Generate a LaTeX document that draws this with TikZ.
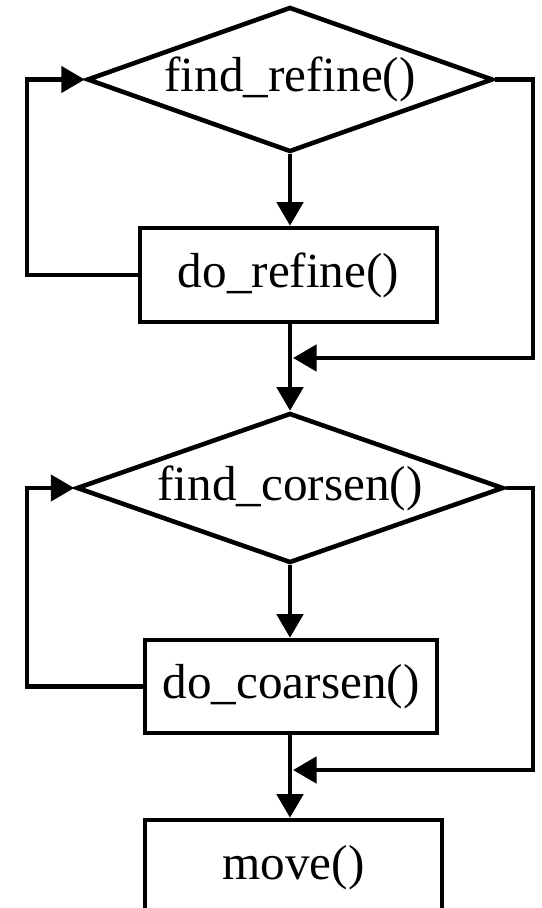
\documentclass[tikz,border=0pt]{standalone}
\usepackage{fontspec}
\setmainfont{Liberation Serif}
\usepackage{tikz}
\usetikzlibrary{arrows.meta,shapes.geometric}

\begin{document}
\begin{tikzpicture}[x=0.02cm,y=-0.02cm,
    line width=2.6pt,
    flow/.style={-{Triangle[length=0.47cm,width=0.52cm]}},
    txt/.style={font=\fontsize{28}{34}\selectfont},
    cond/.style={draw,shape=diamond,txt,inner sep=0pt},
    proc/.style={draw,rectangle,txt,inner sep=0pt}]
    \useasboundingbox (0,0) rectangle (541,908);
    % first loop
    \node[cond,aspect=2.8,minimum width=8.12cm,minimum height=2.9cm] (findref) at (290,79.5) {find\_refine()};
    \node[proc,minimum width=5.94cm,minimum height=1.88cm] (doref) at (288.5,275) {do\_refine()};
    % second loop
    \node[cond,aspect=2.85,minimum width=8.54cm,minimum height=3.0cm] (findcor) at (290,488) {find\_corsen()};
    \node[proc,minimum width=5.84cm,minimum height=1.86cm] (docoar) at (291,686.5) {do\_coarsen()};
    \node[proc,minimum width=5.94cm,minimum height=1.9cm] (move) at (293.5,867.5) {move()};
    % helper points
    \coordinate (m1) at (293,358);
    \coordinate (r1) at (533,358);
    \coordinate (l1) at (27,275);
    \coordinate (m2) at (293,770);
    \coordinate (r2) at (533,770);
    \coordinate (l2) at (27,686.5);
    \draw[flow] (findref.south) -- (findref.south |- doref.north);
    \draw[flow] (findref.south |- doref.south) -- (findcor.north);
    \draw[flow] (findref.east) -| (r1) -- (m1);
    \draw[flow] (doref.west) -- (l1) |- (findref.west);
    \draw[flow] (findcor.south) -- (findcor.south |- docoar.north);
    \draw[flow] (findcor.south |- docoar.south) -- (findcor.south |- move.north);
    \draw[flow] (findcor.east) -| (r2) -- (m2);
    \draw[flow] (docoar.west) -- (l2) |- (findcor.west);
\end{tikzpicture}
\end{document}
